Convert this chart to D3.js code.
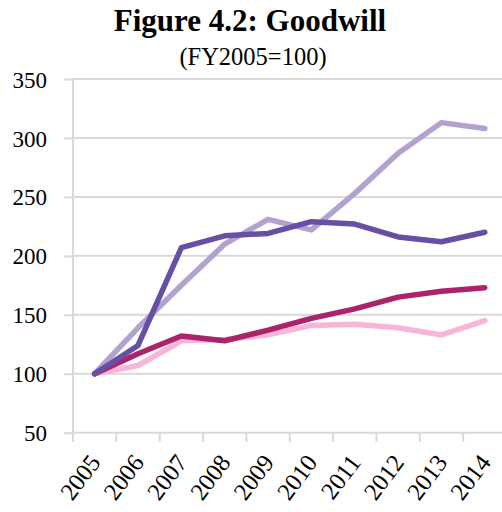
<!DOCTYPE html>
<html>
<head>
<meta charset="utf-8">
<script src="https://cdn.jsdelivr.net/npm/d3@7"></script>
<style>
  body { margin: 0; background: #fff; }
  text { font-family: "Liberation Serif", "Times New Roman", serif; fill: #000; }
</style>
</head>
<body>
<div id="chart"></div>
<script>
var years = ["2005", "2006", "2007", "2008", "2009", "2010", "2011", "2012", "2013", "2014"];
var yTicks = [50, 100, 150, 200, 250, 300, 350];

// four series, drawn in this order (last on top)
var seriesLight = [100, 139, 175, 210, 231, 222, 253, 287, 313, 308];
var seriesPink = [100, 107, 128, 129, 133, 141, 142, 139, 133, 145];
var seriesMagenta = [100, 117, 132, 128, 137, 147, 155, 165, 170, 173];
var seriesDark = [100, 124, 207, 217, 219, 229, 227, 216, 212, 220];
var colors = ["#b3a2d0", "#f9b4da", "#a9246a", "#6750a4"];

var width = 502, height = 512;
var margin = {top: 79, left: 73, bottom: 80};
var plotBottom = 432.7;

var svg = d3.select("#chart").append("svg")
    .attr("width", width)
    .attr("height", height);

svg.append("text")
    .attr("x", 250).attr("y", 31)
    .attr("text-anchor", "middle")
    .style("font-size", "31px")
    .style("font-weight", "bold")
    .text("Figure 4.2: Goodwill");

svg.append("text")
    .attr("x", 253).attr("y", 65)
    .attr("text-anchor", "middle")
    .style("font-size", "24.5px")
    .text("(FY2005=100)");

// scales
var x = d3.scaleBand().domain(years).range([margin.left, margin.left + 43.35 * 10]);
var y = d3.scaleLinear().domain([50, 350]).range([plotBottom, margin.top]);

// gridlines
svg.append("g").selectAll("line")
    .data(yTicks.slice(1))
    .enter().append("line")
    .attr("x1", margin.left).attr("x2", width)
    .attr("y1", function(d) { return y(d); })
    .attr("y2", function(d) { return y(d); })
    .style("stroke", "#d9d9d9")
    .style("stroke-width", 2);

// y axis
var yAxis = svg.append("g")
    .attr("transform", "translate(" + margin.left + ",0)")
    .call(d3.axisLeft(y).tickValues(yTicks).tickSize(9).tickPadding(17));
yAxis.selectAll("line, path").style("stroke", "#d9d9d9").style("stroke-width", 2);
yAxis.select(".domain").attr("d", "M0," + y(350) + "V" + plotBottom);
yAxis.selectAll("text")
    .style("font-size", "23px")
    .style("font-family", "'Liberation Serif', 'Times New Roman', serif")
    .attr("dy", "0.35em");

// x axis: line + ticks between categories
var xAxis = svg.append("g");
xAxis.append("line")
    .attr("x1", margin.left).attr("x2", width)
    .attr("y1", plotBottom).attr("y2", plotBottom)
    .style("stroke", "#d9d9d9").style("stroke-width", 2);
var bounds = years.map(function(d) { return x(d); }).concat([x.range()[1]]);
xAxis.selectAll("line.tk")
    .data(bounds)
    .enter().append("line")
    .attr("class", "tk")
    .attr("x1", function(d) { return d; }).attr("x2", function(d) { return d; })
    .attr("y1", plotBottom).attr("y2", plotBottom + 9)
    .style("stroke", "#d9d9d9").style("stroke-width", 2);

xAxis.selectAll("text")
    .data(years)
    .enter().append("text")
    .attr("text-anchor", "end")
    .attr("transform", function(d) {
        return "translate(" + (x(d) + x.bandwidth() / 2 + 7) + "," + (plotBottom + 30) + ") rotate(-53)";
    })
    .style("font-size", "24.5px")
    .text(function(d) { return d; });

// lines
var line = d3.line()
    .x(function(d, i) { return x(years[i]) + x.bandwidth() / 2; })
    .y(function(d) { return y(d); });

var allSeries = [seriesLight, seriesPink, seriesMagenta, seriesDark];
svg.append("g").selectAll("path")
    .data(allSeries)
    .enter().append("path")
    .attr("d", line)
    .style("fill", "none")
    .style("stroke", function(d, i) { return colors[i]; })
    .style("stroke-width", 5.5)
    .style("stroke-linejoin", "round")
    .style("stroke-linecap", "round");
</script>
</body>
</html>
